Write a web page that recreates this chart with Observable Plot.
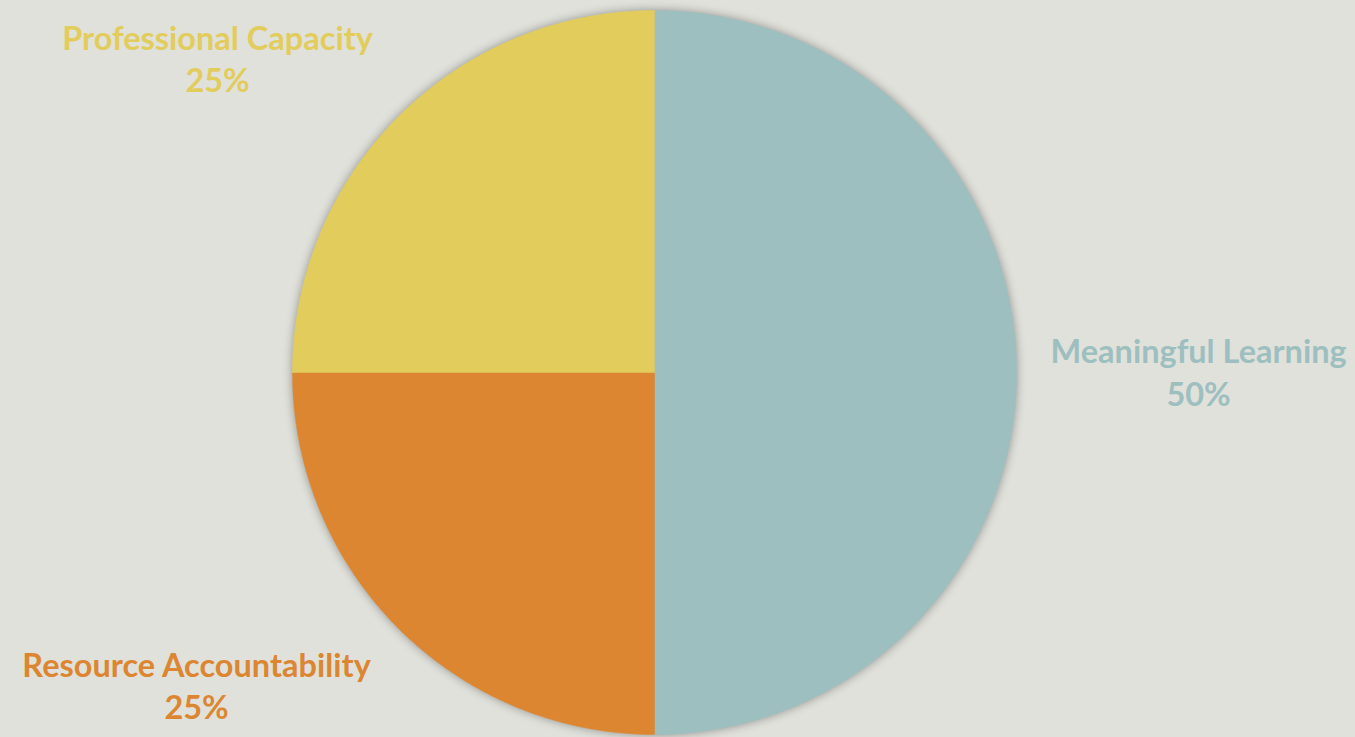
<!DOCTYPE html>
<html>
<head>
<meta charset="utf-8">
<script src="https://cdn.jsdelivr.net/npm/d3@7"></script>
<script src="https://cdn.jsdelivr.net/npm/@observablehq/plot@0.6"></script>
<style>
  html, body { margin: 0; padding: 0; background: #e0e1db; overflow: hidden; }
  #chart svg { display: block; }
  #chart g[aria-label="line"] { filter: drop-shadow(0px 0px 5px rgba(0,0,0,0.35)); }
</style>
</head>
<body>
<div id="chart"></div>
<script>
// ---- data ----
const categories = ["Meaningful Learning", "Resource Accountability", "Professional Capacity"];
const shares = [50, 25, 25];
const percentLabels = ["50%", "25%", "25%"];

// ---- styling / layout ----
const colors = ["#9dbfbf", "#dc8632", "#e2cc5c"];
const W = 1355, H = 737;
const cx = 654, cy = 372, R = 362; // pixel geometry of the pie
// label anchor in units of radius, relative to centre (layout)
const labelAnchor = {
  "Meaningful Learning": [1.503, 0.004],
  "Resource Accountability": [-1.265, -0.862],
  "Professional Capacity": [-1.207, 0.870]
};

// build slice polygons from the shares (clockwise from 12 o'clock)
const total = d3.sum(shares);
const polys = [];
let start = 0;
categories.forEach((c, i) => {
  const a0 = start / total * 2 * Math.PI;
  const a1 = (start + shares[i]) / total * 2 * Math.PI;
  start += shares[i];
  polys.push({cat: c, x: 0, y: 0, k: 0});
  const n = Math.max(2, Math.ceil((a1 - a0) / (Math.PI / 360)));
  for (let j = 0; j <= n; j++) {
    const a = a0 + (a1 - a0) * j / n;
    polys.push({cat: c, x: Math.sin(a), y: Math.cos(a), k: j + 1});
  }
  polys.push({cat: c, x: 0, y: 0, k: n + 2});
});

const labels = categories.map((c, i) => ({
  cat: c,
  text: c + "\n" + percentLabels[i],
  x: labelAnchor[c][0],
  y: labelAnchor[c][1]
}));

const chart = Plot.plot({
  width: W,
  height: H,
  margin: 0,
  style: {background: "#e0e1db", fontFamily: "Lato, sans-serif"},
  x: {domain: [-cx / R, (W - cx) / R], range: [0, W], axis: null},
  y: {domain: [-(H - cy) / R, cy / R], range: [H, 0], axis: null},
  color: {domain: categories, range: colors},
  marks: [
    Plot.line(polys, {x: "x", y: "y", z: "cat", fill: "cat", stroke: "cat", strokeWidth: 0.5, curve: "linear"}),
    Plot.text(labels, {
      x: "x", y: "y", text: "text", fill: "cat",
      fontSize: 32.5, fontWeight: "bold", lineHeight: 1.3, textAnchor: "middle"
    })
  ]
});
document.getElementById("chart").appendChild(chart);
</script>
</body>
</html>
